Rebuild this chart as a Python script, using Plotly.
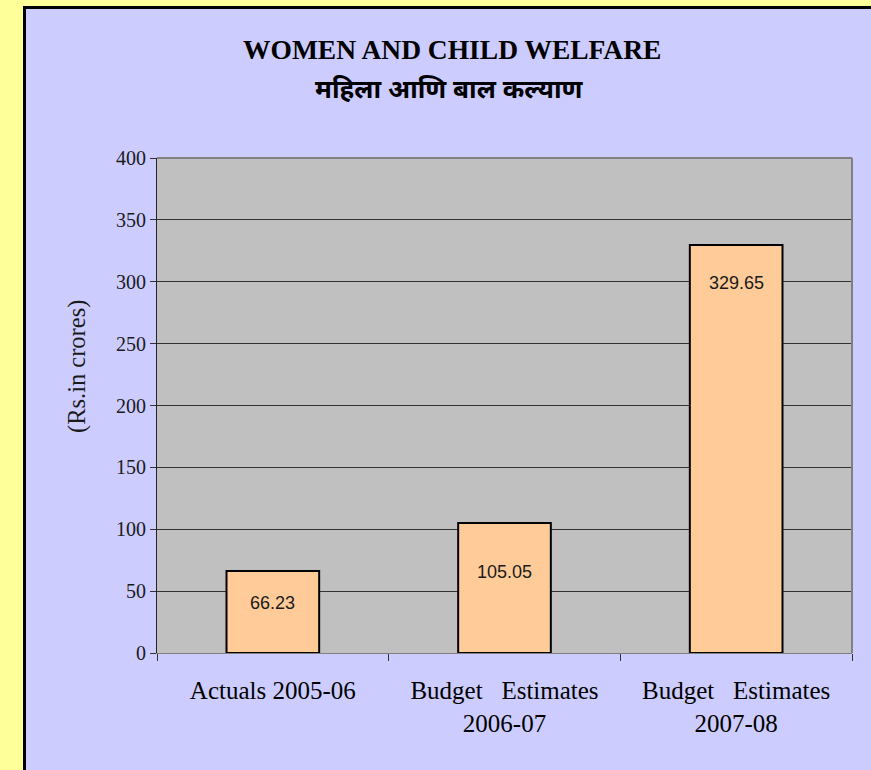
import plotly.graph_objects as go

categories = ["Actuals 2005-06",
              "Budget\u00a0\u00a0\u00a0Estimates<br>2006-07",
              "Budget\u00a0\u00a0\u00a0Estimates<br>2007-08"]
values = [66.23, 105.05, 329.65]
value_labels = ["66.23", "105.05", "329.65"]
title_en = "WOMEN AND CHILD WELFARE"
title_mr = "महिला आणि बाल कल्याण"
y_title = "(Rs.in crores)"

W, H = 871, 770
L, R, T, B = 157, 19, 158, 117
pw, ph = W - L - R, H - T - B

def px(x):
    return (x - L) / pw

def py(y):
    return (H - B - y) / ph

serif = "Liberation Serif, Times New Roman, serif"
narrow = "Liberation Sans Narrow, Arial Narrow, Liberation Sans, sans-serif"

fig = go.Figure()
fig.add_trace(go.Bar(
    x=categories, y=values,
    marker=dict(color="#FFCC99", line=dict(color="#000000", width=2)),
    hoverinfo="skip",
))

label_shift = [-32, -49, -38]
annotations = []
for c, v, t, s in zip(categories, values, value_labels, label_shift):
    annotations.append(dict(x=c, y=v, xref="x", yref="y", text=t, showarrow=False,
                            yshift=s, yanchor="middle",
                            font=dict(family=narrow, size=18, color="#1a1a1a")))

annotations += [
    dict(xref="paper", yref="paper", x=px(452), y=py(50), text="<b>%s</b>" % title_en,
         showarrow=False, xanchor="center", yanchor="middle",
         font=dict(family=serif, size=27.5, color="#000000")),
    dict(xref="paper", yref="paper", x=px(449), y=py(92), text="<b>%s</b>" % title_mr,
         showarrow=False, xanchor="center", yanchor="middle",
         font=dict(family="Noto Sans Devanagari, Lohit Devanagari, Noto Sans, sans-serif",
                   size=26, color="#000000")),
    dict(xref="paper", yref="paper", x=px(77), y=py(367), text=y_title, textangle=-90,
         showarrow=False, xanchor="center", yanchor="middle",
         font=dict(family=serif, size=24.5, color="#1a1a1a")),
]

yellow = "#FFFF99"
shapes = [
    # yellow outer frame (left and top strips)
    dict(type="rect", xref="paper", yref="paper", layer="below",
         x0=px(-10), x1=px(23), y0=py(H + 10), y1=py(-10),
         fillcolor=yellow, line=dict(width=0)),
    dict(type="rect", xref="paper", yref="paper", layer="below",
         x0=px(-10), x1=px(W + 10), y0=py(6), y1=py(-10),
         fillcolor=yellow, line=dict(width=0)),
    # black border of the chart area
    dict(type="line", xref="paper", yref="paper", layer="below",
         x0=px(24.5), x1=px(24.5), y0=py(H + 10), y1=py(6),
         line=dict(color="#000000", width=3)),
    dict(type="line", xref="paper", yref="paper", layer="below",
         x0=px(23), x1=px(W + 10), y0=py(7.5), y1=py(7.5),
         line=dict(color="#000000", width=3)),
    # plot area border (top and right)
    dict(type="line", xref="paper", yref="paper", x0=0, x1=1, y0=1, y1=1,
         line=dict(color="#808080", width=2)),
    dict(type="line", xref="paper", yref="paper", x0=1, x1=1, y0=0, y1=1,
         line=dict(color="#808080", width=2)),
]

fig.update_layout(
    width=W, height=H,
    margin=dict(l=L, r=R, t=T, b=B, pad=0),
    paper_bgcolor="#CCCCFF",
    plot_bgcolor="#C0C0C0",
    bargap=0.6,
    showlegend=False,
    annotations=annotations,
    shapes=shapes,
    xaxis=dict(
        showgrid=False, showline=True, linecolor="#808080", linewidth=1,
        ticks="outside", tickson="boundaries", ticklen=7, tickcolor="#333333",
        tickfont=dict(family=serif, size=25, color="#000000"),
        ticklabelstandoff=15, zeroline=False, fixedrange=True,
    ),
    yaxis=dict(
        range=[0, 400], dtick=50, showgrid=True, gridcolor="#333333", gridwidth=1,
        showline=True, linecolor="#222222", linewidth=1,
        ticks="outside", ticklen=6, tickcolor="#333333",
        tickfont=dict(family=serif, size=20, color="#1a1a1a"),
        zeroline=False, fixedrange=True,
    ),
)

fig.write_html(
    "out.html",
    config={"displayModeBar": False, "staticPlot": True},
    post_script="document.body.style.margin='0';document.body.style.overflow='hidden';"
                "document.body.style.background='#FFFF99';",
)
